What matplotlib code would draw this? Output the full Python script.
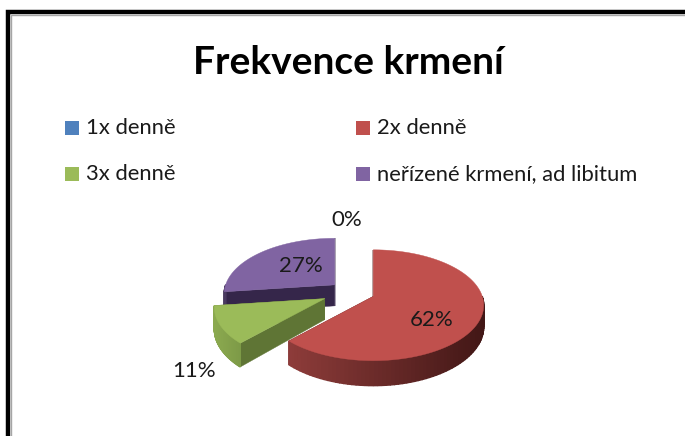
import numpy as np
import matplotlib
matplotlib.use('Agg')
import matplotlib.pyplot as plt
from matplotlib.patches import Polygon, Rectangle
from matplotlib.colors import to_rgb

plt.rcParams['font.family'] = ['Lato', 'DejaVu Sans']

# data
title = 'Frekvence krmení'
categories = ['1x denně', '2x denně', '3x denně', 'neřízené krmení, ad libitum']
values = [0, 62, 11, 27]
colors = ['#4f81bd', '#c0504d', '#9bbb59', '#8064a2']
side_left = ['#3a5f8c', '#8e3c3a', '#8ba94f', '#4a3a60']
side_right = ['#3a5f8c', '#421716', '#7d9a47', '#4a3a60']
cut_colors = ['#2c4a6e', '#5a2220', '#5f7535', '#35264a']
explode = [0, 0.22, 0.27, 0.20]

# pie geometry, in pixels
cx, cy = 351, 292
rx, ry = 109, 54
depth = 21
persp = 0.16

fig = plt.figure(figsize=(6.85, 4.36), dpi=100)
ax = fig.add_axes([0, 0, 1, 1])
ax.set_xlim(0, 685)
ax.set_ylim(436, 0)
ax.axis('off')


def rim(theta, apex):
    # theta clockwise from 12 o'clock, v is towards the viewer
    u, v = np.sin(theta), -np.cos(theta)
    w = 1 / (1 - persp * v)
    return apex[0] + rx * u * w, apex[1] + ry * v * w, depth * w


def draw_slice(i, a0, a1):
    mid = (a0 + a1) / 2
    apex = (cx + explode[i] * rx * np.sin(mid), cy - explode[i] * ry * np.cos(mid))
    th = np.linspace(a0, a1, 120)
    x, y, d = rim(th, apex)

    # cut faces under the two straight edges
    for xe, ye, de in [(x[0], y[0], d[0]), (x[-1], y[-1], d[-1])]:
        face = [apex, (xe, ye), (xe, ye + de), (apex[0], apex[1] + depth)]
        ax.add_patch(Polygon(face, closed=True, fc=cut_colors[i], ec=cut_colors[i], lw=0.3))

    # outer wall, shaded from left to right
    c0, c1 = np.array(to_rgb(side_left[i])), np.array(to_rgb(side_right[i]))
    x_lo, x_hi = x.min(), x.max()
    for k in range(len(th) - 1):
        if np.cos(th[k]) > 0:
            continue
        t = (x[k] - x_lo) / max(x_hi - x_lo, 1)
        c = c0 + (c1 - c0) * t
        quad = [(x[k], y[k]), (x[k + 1], y[k + 1]),
                (x[k + 1], y[k + 1] + d[k + 1]), (x[k], y[k] + d[k])]
        ax.add_patch(Polygon(quad, closed=True, fc=c, ec=c, lw=1.0))

    # top surface
    top = [apex] + list(zip(x, y))
    ax.add_patch(Polygon(top, closed=True, fc=colors[i], ec=colors[i], lw=0.3))


# clockwise from the top, back slices first
angles = np.cumsum([0] + values) / sum(values) * 2 * np.pi
for i in [3, 2, 1]:
    draw_slice(i, angles[i], angles[i + 1])

# frame, open on the right and at the bottom
ax.plot([8, 8, 685], [436, 12, 12], color='black', lw=3.2, solid_joinstyle='miter')
ax.plot([11, 11, 685], [436, 15, 15], color='#a6a6a6', lw=1.0, solid_joinstyle='miter')

ax.text(348, 63, title, fontsize=28, fontweight='bold', ha='center', va='center', color='black')

# legend
legend_x = [65, 356]
legend_y = [128, 174]
for i, name in enumerate(categories):
    lx, ly = legend_x[i % 2], legend_y[i // 2]
    ax.add_patch(Rectangle((lx, ly - 7), 14, 14, fc=colors[i], ec='none'))
    ax.text(lx + 21, ly, name, fontsize=15.8, ha='left', va='center', color='#1a1a1a')

# value labels
label_pos = [(347, 220), (432, 320), (194, 371), (301, 266)]
for v, (lx, ly) in zip(values, label_pos):
    ax.text(lx, ly, f'{v}%', fontsize=16, ha='center', va='center', color='#1a1a1a')

fig.savefig('out.png', dpi=100, facecolor='white')
